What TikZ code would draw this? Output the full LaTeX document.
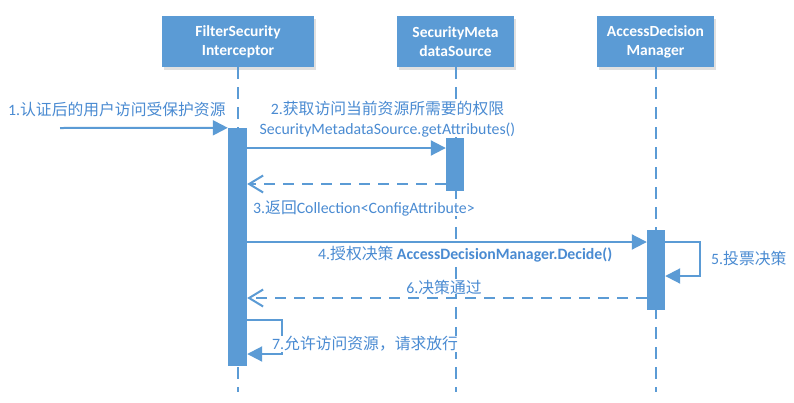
\documentclass[tikz,border=0pt]{standalone}
\usepackage{fontspec}
\setmainfont{Carlito}
\newfontfamily\cjk{Noto Sans CJK SC}
\usetikzlibrary{arrows.meta,shadows}
\definecolor{vblue}{HTML}{5B9BD5}
\definecolor{tblue}{HTML}{4A8BD2}
\begin{document}
\begin{tikzpicture}[x=1pt,y=-1pt,
  obj/.style={fill=vblue, draw=none, text=white, align=center,
    font=\fontsize{15.5}{19}\selectfont\bfseries, inner sep=0pt,
    drop shadow={shadow xshift=2pt, shadow yshift=-3pt, fill=black, opacity=.12}},
  life/.style={vblue, line width=2pt, dash pattern=on 12pt off 8pt},
  act/.style={fill=vblue, draw=none, inner sep=0pt},
  msg/.style={vblue, line width=2pt, -{Triangle[length=15pt,width=15pt]}},
  ret/.style={vblue, line width=2pt, dash pattern=on 11pt off 8pt, -{Straight Barb[length=14pt,width=17pt]}},
  lab/.style={text=tblue, fill=white, font=\fontsize{15.8}{20}\selectfont, inner sep=0pt}]
\useasboundingbox (0,0) rectangle (794,402);
\fill[white] (0,0) rectangle (794,402);
% objects
\node[obj, minimum width=152pt, minimum height=51pt] (fsi) at (238,41.5) {FilterSecurity\\Interceptor};
\node[obj, minimum width=117pt, minimum height=51pt] (sms) at (455.5,41.5) {SecurityMeta\\dataSource};
\node[obj, minimum width=117pt, minimum height=51pt] (adm) at (655.5,41.5) {AccessDecision\\Manager};
% lifeline ends
\coordinate (e1) at (238,392);
\coordinate (e2) at (455.5,392);
\coordinate (e3) at (655.5,392);
\draw[life] (fsi.south) -- (e1);
\draw[life] (sms.south) -- (e2);
\draw[life] (adm.south) -- (e3);
% activations
\node[act, minimum width=19pt, minimum height=238pt] (a1) at (237.5,247) {};
\node[act, minimum width=18pt, minimum height=53pt] (a2) at (455,164.5) {};
\node[act, minimum width=18pt, minimum height=80pt] (a3) at (656,270) {};
% message rows
\coordinate (s1) at (60,128);
\coordinate (y2) at (0,148);
\coordinate (y3) at (0,184);
\coordinate (y4) at (0,242);
\coordinate (y5a) at (0,242);
\coordinate (y5b) at (0,276);
\coordinate (y6) at (0,298);
\coordinate (y7a) at (0,320);
\coordinate (y7b) at (0,354);
\coordinate (c5) at (700,0);
\coordinate (c7) at (282,0);
\draw[msg] (s1) -- (a1.north west);
\draw[msg] (a1.east |- y2) -- (a2.west |- y2);
\draw[ret] (a2.west |- y3) -- (a1.east |- y3);
\draw[msg] (a1.east |- y4) -- (a3.west |- y4);
\draw[msg] (a3.east |- y5a) -- (c5 |- y5a) -- (c5 |- y5b) -- (a3.east |- y5b);
\draw[ret] (a3.west |- y6) -- (a1.east |- y6);
\draw[msg] (a1.east |- y7a) -- (c7 |- y7a) -- (c7 |- y7b) -- (a1.east |- y7b);
% labels
\node[lab, anchor=west] (t1) at (8,110) {1.{\cjk 认证后的用户访问受保护资源}};
\node[lab, align=center] (t2) at (387.5,119) {2.{\cjk 获取访问当前资源所需要的权限}\\SecurityMetadataSource.getAttributes()};
\node[lab, anchor=west] (t3) at (253,208) {3.{\cjk 返回}Collection<ConfigAttribute>};
\node[lab, anchor=west] (t4) at (318,254) {4.{\cjk 授权决策} \textbf{AccessDecisionManager.Decide()}};
\node[lab, anchor=west] (t5) at (711,258) {5.{\cjk 投票决策}};
\node[lab] (t6) at (444,287) {6.{\cjk 决策通过}};
\node[lab, anchor=west] (t7) at (272,344) {7.{\cjk 允许访问资源，请求放行}};
\end{tikzpicture}
\end{document}
